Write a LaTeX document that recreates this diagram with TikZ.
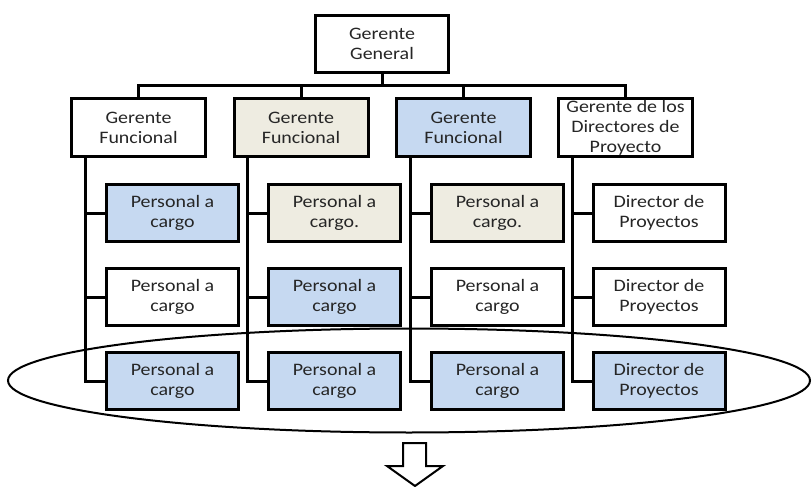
\documentclass[tikz,border=0pt]{standalone}
\usepackage{fontspec}
\setmainfont[FakeStretch=1.14]{Carlito}
\usetikzlibrary{calc}
\definecolor{boxblue}{HTML}{C6D9F1}
\definecolor{boxbeige}{HTML}{EEECE1}
\definecolor{txt}{HTML}{262626}
\tikzset{
  orgbox/.style={draw=black, line width=3pt, fill=white, align=center, text=txt,
    font=\fontsize{17.5}{20}\selectfont, inner sep=0pt},
  topbox/.style={orgbox, minimum width=133pt, minimum height=57pt},
  lvtwo/.style={orgbox, minimum width=134pt, minimum height=58pt},
  lvthree/.style={orgbox, minimum width=132pt, minimum height=57pt},
  blue/.style={fill=boxblue},
  beige/.style={fill=boxbeige},
  wire/.style={draw=black, line width=3pt},
}
\begin{document}
\begin{tikzpicture}[x=1pt,y=-1pt]
\useasboundingbox (0,0) rectangle (812,487);
% ellipse
\draw[line width=2pt] (409,380.5) ellipse [x radius=401, y radius=52];
% top
\node[topbox] (gg) at (382,44) {Gerente\\General};
% level 2
\node[lvtwo] (f1) at (138.5,127.5) {Gerente\\Funcional};
\node[lvtwo,beige] (f2) at (301,127.5) {Gerente\\Funcional};
\node[lvtwo,blue] (f3) at (463.5,127.5) {Gerente\\Funcional};
\node[lvtwo] (f4) at (625.5,127.5) {Gerente de los\\Directores de\\Proyecto};
% level 3, column 1
\node[lvthree,blue] (p11) at (172.5,213) {Personal a\\cargo};
\node[lvthree] (p12) at (172.5,297) {Personal a\\cargo};
\node[lvthree,blue] (p13) at (172.5,381) {Personal a\\cargo};
% column 2
\node[lvthree,beige] (p21) at (334.5,213) {Personal a\\cargo.};
\node[lvthree,blue] (p22) at (334.5,297) {Personal a\\cargo};
\node[lvthree,blue] (p23) at (334.5,381) {Personal a\\cargo};
% column 3
\node[lvthree,beige] (p31) at (497.5,213) {Personal a\\cargo.};
\node[lvthree] (p32) at (497.5,297) {Personal a\\cargo};
\node[lvthree,blue] (p33) at (497.5,381) {Personal a\\cargo};
% column 4
\node[lvthree] (p41) at (659,213) {Director de\\Proyectos};
\node[lvthree] (p42) at (659,297) {Director de\\Proyectos};
\node[lvthree,blue] (p43) at (659,381) {Director de\\Proyectos};
% bus
\coordinate (bus) at (382,86);
\draw[wire] (gg.south) -- (bus);
\draw[wire] (f1.north) -- (f1.north |- bus) -- (f4.north |- bus) -- (f4.north);
\draw[wire] (f2.north) -- (f2.north |- bus);
\draw[wire] (f3.north) -- (f3.north |- bus);
% columns
\foreach \c in {1,2,3,4}{
  \coordinate (v\c) at ($(f\c.south west)+(15,0)$);
  \draw[wire] (v\c) |- (p\c3.west);
  \draw[wire] (v\c |- p\c1.west) -- (p\c1.west);
  \draw[wire] (v\c |- p\c2.west) -- (p\c2.west);
}
% down arrow
\draw[line width=2pt, fill=white, line join=miter]
  (403,443) -- (426,443) -- (426,466) -- (443,466) -- (415,486) -- (387,466) -- (403,466) -- cycle;
\end{tikzpicture}
\end{document}
